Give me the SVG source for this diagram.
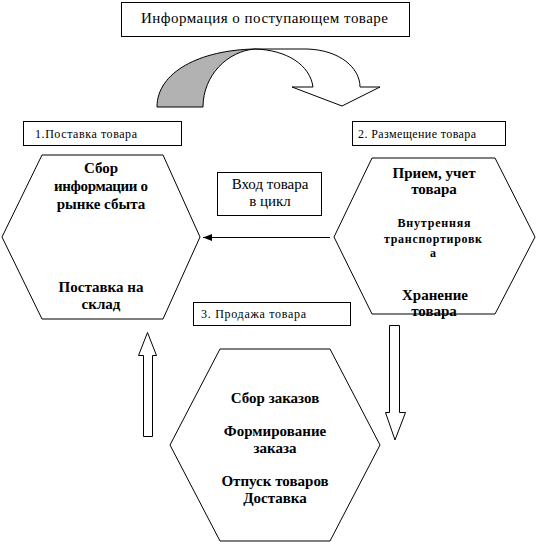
<svg xmlns="http://www.w3.org/2000/svg" width="536" height="542" viewBox="0 0 536 542">
<style>
.box{fill:#fff;stroke:#000;stroke-width:1}
.hex{fill:#fff;stroke:#000;stroke-width:1}
.lbl{font-family:"Liberation Serif","DejaVu Serif","Times New Roman",serif;font-size:12px;fill:#000}
.t{font-family:"Liberation Serif","DejaVu Serif","Times New Roman",serif;font-size:15px;fill:#000}
.b{font-family:"Liberation Serif","DejaVu Serif","Times New Roman",serif;font-size:15px;font-weight:bold;fill:#000;text-anchor:middle}
.bs{font-family:"Liberation Serif","DejaVu Serif","Times New Roman",serif;font-size:12px;font-weight:bold;fill:#000;text-anchor:middle}
.ln{fill:none;stroke:#000;stroke-width:1}
</style>
<defs>
<marker id="ah" markerWidth="9" markerHeight="7" refX="9" refY="3.5" orient="auto" markerUnits="userSpaceOnUse">
<path d="M0,0 L9,3.5 L0,7 Z" fill="#000"/>
</marker>
</defs>
<g id="info">
<rect class="box" x="121.5" y="2.5" width="288" height="34"/>
<text class="t" x="141" y="23" textLength="247" lengthAdjust="spacing">Информация о поступающем товаре</text>
</g>
<g id="curved-arrow">
<path d="M157,107 C157,72 200,50 255,49 C228,51 203,75 203,107 Z" fill="#b2b2b2" stroke="#000" stroke-width="1"/>
<path d="M255,49 L307,49 C340,50 360,68 360,87 L380,87 L342,106 L292,87 L313,87 C310,65 287,50 255,49 Z" fill="#fff" stroke="#000" stroke-width="1"/>
</g>
<g id="label1">
<rect class="box" x="23.5" y="121.5" width="158" height="24"/>
<text class="lbl" x="35" y="138" textLength="102" lengthAdjust="spacing">1.Поставка товара</text>
</g>
<g id="label2">
<rect class="box" x="352.5" y="121.5" width="153" height="24"/>
<text class="lbl" x="358" y="138" textLength="118" lengthAdjust="spacing">2. Размещение товара</text>
</g>
<g id="hex1">
<polygon class="hex" points="42,155 163,155 200,237 163,319 42,319 2,237"/>
<text class="b" x="101" y="173">Сбор</text>
<text class="b" x="101" y="191" textLength="94" lengthAdjust="spacing">информации о</text>
<text class="b" x="101" y="209">рынке сбыта</text>
<text class="b" x="101" y="292">Поставка на</text>
<text class="b" x="101" y="309">склад</text>
</g>
<g id="hex2">
<polygon class="hex" points="372,158 495,158 535,237 495,314 372,314 334,237"/>
<text class="b" x="434" y="178">Прием, учет</text>
<text class="b" x="434" y="194">товара</text>
<text class="bs" x="434" y="227" textLength="73" lengthAdjust="spacing">Внутренняя</text>
<text class="bs" x="433" y="243" textLength="98" lengthAdjust="spacing">транспортировк</text>
<text class="bs" x="433" y="257">а</text>
<text class="b" x="435" y="300">Хранение</text>
<text class="b" x="434" y="316">товара</text>
</g>
<g id="entry">
<rect class="box" x="217.5" y="172.5" width="104" height="43"/>
<text class="t" x="270" y="189" text-anchor="middle">Вход товара</text>
<text class="t" x="270" y="206" text-anchor="middle">в цикл</text>
</g>
<g id="label3">
<rect class="box" x="193.5" y="302.5" width="157" height="23"/>
<text class="lbl" x="201" y="318" textLength="105" lengthAdjust="spacing">3. Продажа товара</text>
</g>
<g id="hex3">
<polygon class="hex" points="220,349 330,349 380,445 330,541 220,541 170,445"/>
<text class="b" x="275" y="403">Сбор заказов</text>
<text class="b" x="275" y="436">Формирование</text>
<text class="b" x="275" y="453">заказа</text>
<text class="b" x="275" y="486">Отпуск товаров</text>
<text class="b" x="275" y="503">Доставка</text>
</g>
<g id="connectors">
<line class="ln" x1="330" y1="237.5" x2="203" y2="237.5" marker-end="url(#ah)"/>
<path d="M143.5,436.5 L143.5,355.5 L138.5,355.5 L147.5,332.5 L156.5,355.5 L152.5,355.5 L152.5,436.5 Z" fill="#fff" stroke="#000" stroke-width="1"/>
<path d="M389.5,325.5 L399.5,325.5 L399.5,412.5 L405.5,412.5 L395,440 L385.5,412.5 L389.5,412.5 Z" fill="#fff" stroke="#000" stroke-width="1"/>
</g>
</svg>
